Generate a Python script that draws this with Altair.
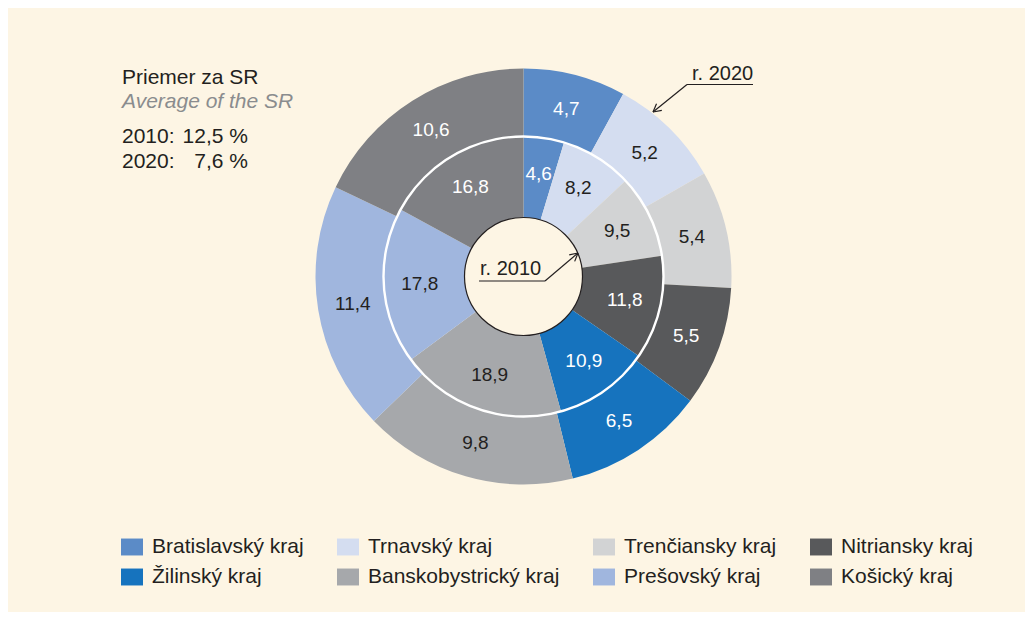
import math
import altair as alt
import pandas as pd

# ---------------- data ----------------
regions = ["Bratislavský kraj", "Trnavský kraj", "Trenčiansky kraj", "Nitriansky kraj",
           "Žilinský kraj", "Banskobystrický kraj", "Prešovský kraj", "Košický kraj"]
values_2020 = [4.7, 5.2, 5.4, 5.5, 6.5, 9.8, 11.4, 10.6]
values_2010 = [4.6, 8.2, 9.5, 11.8, 10.9, 18.9, 17.8, 16.8]
colors = ["#5B8BC7", "#D4DDF0", "#D2D3D4", "#58595B",
          "#1673BE", "#A6A8AB", "#A0B6DE", "#7F8084"]
white_label = [True, False, False, True, True, False, False, True]

avg_title = "Priemer za SR"
avg_subtitle = "Average of the SR"
avg_years = ["2010:", "2020:"]
avg_values = ["12,5 %", "7,6 %"]

BG = "#FDF5E4"
DARK = "#231F20"
FONT = "Liberation Sans"

CX, CY = 515.5, 268.5
R_OUT, R_MID, R_IN = 208, 140, 59


def make_df(vals):
    return pd.DataFrame({
        "region": regions,
        "value": vals,
        "order": list(range(len(regions))),
        "label": [f"{v:.1f}".replace(".", ",") for v in vals],
        "white": white_label,
    })


df20 = make_df(values_2020)
df10 = make_df(values_2010)

color_enc = alt.Color(
    "region:N",
    scale=alt.Scale(domain=regions, range=colors),
    legend=alt.Legend(
        orient="none", legendX=113, legendY=528, columns=4, direction="horizontal",
        columnPadding=33, rowPadding=9, padding=0,
        symbolType="M-1,-0.77H1V0.77H-1Z", symbolSize=484, symbolStrokeWidth=0,
        symbolOpacity=1,
        labelFont=FONT, labelFontSize=21, labelColor=DARK, labelOffset=9, labelLimit=400,
        title=None,
    ),
)
text_color = alt.condition("datum.white", alt.value("white"), alt.value(DARK))


def ring(df, r_outer, r_inner, r_text):
    base = alt.Chart(df).encode(
        theta=alt.Theta("value:Q", stack=True),
        order=alt.Order("order:Q"),
        x=alt.value(CX), y=alt.value(CY),
    )
    arc = base.mark_arc(radius=r_outer, radius2=r_inner).encode(color=color_enc)
    txt = base.mark_text(radius=r_text, font=FONT, fontSize=19).encode(
        text="label:N", color=text_color)
    return alt.layer(arc, txt)


outer = ring(df20, R_OUT, R_MID, 173)
inner = ring(df10, R_MID, R_IN, 104)

one = alt.Data(values=[{}])
sep = alt.Chart(one).mark_arc(radius=R_MID + 1.2, radius2=R_MID - 1.2, theta=0,
                              theta2=2 * math.pi, color="white").encode(
    x=alt.value(CX), y=alt.value(CY))
hole = alt.Chart(one).mark_arc(radius=R_IN, theta=0, theta2=2 * math.pi, fill=BG,
                               stroke=DARK, strokeWidth=1.2).encode(
    x=alt.value(CX), y=alt.value(CY))


def text_at(x, y, s, size=21, color=DARK, align="left", style="normal"):
    return alt.Chart(one).mark_text(align=align, baseline="alphabetic", font=FONT,
                                    fontSize=size, color=color, fontStyle=style).encode(
        x=alt.value(x), y=alt.value(y), text=alt.value(s))


def seg(x1, y1, x2, y2, w=1.2):
    return alt.Chart(one).mark_rule(color=DARK, strokeWidth=w).encode(
        x=alt.value(x1), y=alt.value(y1), x2=alt.value(x2), y2=alt.value(y2))


def arrow(x1, y1, x2, y2, head=9, spread=math.radians(28)):
    parts = [seg(x1, y1, x2, y2)]
    ang = math.atan2(y1 - y2, x1 - x2)
    for s in (-spread, spread):
        parts.append(seg(x2, y2, x2 + head * math.cos(ang + s), y2 + head * math.sin(ang + s)))
    return parts


notes = [
    text_at(114, 76, avg_title),
    text_at(114, 100, avg_subtitle, color="#8A8C8E", style="italic"),
    text_at(114, 135, avg_years[0]),
    text_at(240, 135, avg_values[0], align="right"),
    text_at(114, 160, avg_years[1]),
    text_at(240, 160, avg_values[1], align="right"),
    text_at(684, 72, "r. 2020", size=20),
    seg(679, 76.5, 745, 76.5),
    *arrow(679, 76.5, 645, 104),
    text_at(472, 267, "r. 2010", size=20),
    seg(471, 273, 537, 273),
    *arrow(537, 273, 570, 245),
]

chart = alt.layer(outer, inner, sep, hole, *notes).resolve_scale(
    theta="independent"
).properties(
    width=1017, height=604, background=BG, padding=0,
    autosize=alt.AutoSizeParams(type="none"),
).configure_view(strokeWidth=0)

chart.save("out.html", embed_options={"renderer": "svg", "actions": False})
